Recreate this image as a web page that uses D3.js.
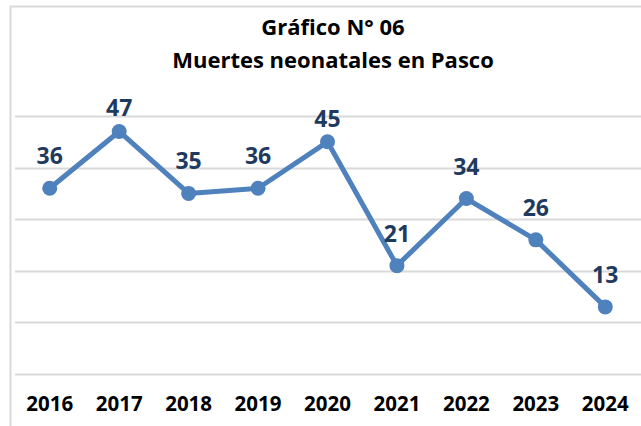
<!DOCTYPE html>
<html>
<head>
<meta charset="utf-8">
<script src="https://cdn.jsdelivr.net/npm/d3@7"></script>
<style>
  body { margin: 0; background: #fff; }
  svg { display: block; font-family: "Open Sans", sans-serif; }
</style>
</head>
<body>
<div id="chart"></div>
<script>
// data
const years = ["2016", "2017", "2018", "2019", "2020", "2021", "2022", "2023", "2024"];
const deaths = [36, 47, 35, 36, 45, 21, 34, 26, 13];
const titleLines = ["Gráfico N° 06", "Muertes neonatales en Pasco"];
const gridTicks = [0, 10, 20, 30, 40, 50];

const width = 641, height = 426;
const margin = {top: 116, right: 1, bottom: 52, left: 15};

const svg = d3.select("#chart").append("svg")
    .attr("width", width)
    .attr("height", height);

// chart border
svg.append("rect")
    .attr("x", 10.5).attr("y", 6.5)
    .attr("width", width + 20).attr("height", height + 20)
    .attr("fill", "none")
    .attr("stroke", "#d9d9d9")
    .attr("stroke-width", 2);

const x = d3.scaleBand()
    .domain(years)
    .range([margin.left, width - margin.right]);

const y = d3.scaleLinear()
    .domain([0, 50])
    .range([height - margin.bottom, margin.top]);

// gridlines
svg.append("g")
    .selectAll("line")
    .data(gridTicks).enter()
    .append("line")
      .attr("x1", margin.left)
      .attr("x2", width)
      .attr("y1", d => Math.round(y(d)) + 0.5)
      .attr("y2", d => Math.round(y(d)) + 0.5)
      .attr("stroke", "#d9d9d9")
      .attr("stroke-width", 2);

// x axis labels
const xAxis = svg.append("g")
    .attr("transform", "translate(0," + (height - margin.bottom) + ")")
    .call(d3.axisBottom(x).tickSize(0).tickPadding(22));
xAxis.select(".domain").remove();
xAxis.selectAll("text")
    .attr("font-family", "Open Sans, sans-serif")
    .attr("font-size", 20.5)
    .attr("font-weight", "bold")
    .attr("fill", "#000");

// title
svg.append("g")
    .selectAll("text")
    .data(titleLines).enter()
    .append("text")
      .attr("x", 333)
      .attr("y", (d, i) => 35 + i * 33)
      .attr("text-anchor", "middle")
      .attr("font-size", 22)
      .attr("font-weight", "bold")
      .attr("fill", "#000")
      .text(d => d);

const cx = (d, i) => x(years[i]) + x.bandwidth() / 2;

const line = d3.line()
    .x((d, i) => cx(d, i))
    .y(d => y(d));

svg.append("path")
    .datum(deaths)
    .attr("d", line)
    .attr("fill", "none")
    .attr("stroke", "#4f81bd")
    .attr("stroke-width", 5)
    .attr("stroke-linejoin", "round");

svg.append("g")
    .selectAll("circle")
    .data(deaths).enter()
    .append("circle")
      .attr("cx", cx)
      .attr("cy", d => y(d))
      .attr("r", 7.5)
      .attr("fill", "#4f81bd");

// data labels, pulled down a bit near the top band
svg.append("g")
    .selectAll("text")
    .data(deaths).enter()
    .append("text")
      .attr("x", cx)
      .attr("y", d => y(d) - (d > 40 ? 15 : 24))
      .attr("text-anchor", "middle")
      .attr("font-size", 23)
      .attr("font-weight", "bold")
      .attr("fill", "#1f3a5f")
      .text(d => d);
</script>
</body>
</html>
